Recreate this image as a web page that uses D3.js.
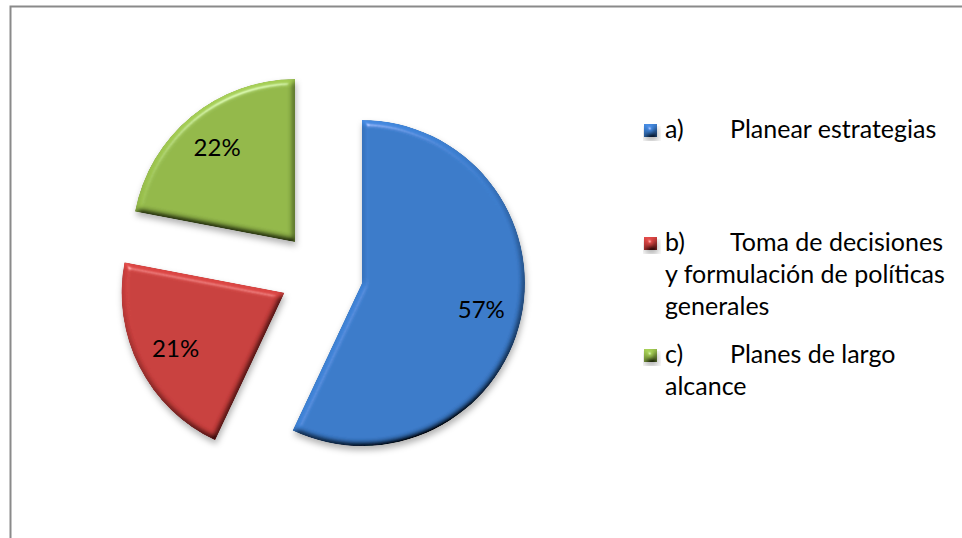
<!DOCTYPE html>
<html>
<head>
<meta charset="utf-8">
<script src="https://cdn.jsdelivr.net/npm/d3@7"></script>
<style>
  html, body { margin: 0; padding: 0; background: #fff; }
  svg { display: block; }
  text { font-family: Lato, "Open Sans", sans-serif; fill: #000; }
</style>
</head>
<body>
<svg id="chart" width="962" height="538"></svg>
<script>
// Answer categories, their share (%) and slice colours
const categories = ["a)", "b)", "c)"];
const legendLines = [
  ["Planear estrategias"],
  ["Toma de decisiones", "y formulación de políticas", "generales"],
  ["Planes de largo", "alcance"]
];
const values = [57, 21, 22];
const colors = ["#3b7bca", "#c93f3d", "#93b84a"];

const width = 962, height = 538;
const svg = d3.select("#chart");

// Frame of the chart area
svg.append("path")
  .attr("d", `M10.5,${height} V6.5 H${width}`)
  .attr("fill", "none")
  .attr("stroke", "#8a8a8a")
  .attr("stroke-width", 2);

// Bevel + drop shadow filter for the slices
const defs = svg.append("defs");
const f = defs.append("filter").attr("id", "bevel")
  .attr("x", "-15%").attr("y", "-15%").attr("width", "140%").attr("height", "140%");
f.append("feGaussianBlur").attr("in", "SourceAlpha").attr("stdDeviation", 3).attr("result", "blur");
const dl = f.append("feDiffuseLighting").attr("in", "blur").attr("surfaceScale", 5)
  .attr("diffuseConstant", 1).attr("lighting-color", "#fff").attr("result", "diff");
dl.append("feDistantLight").attr("azimuth", 250).attr("elevation", 50);
f.append("feComposite").attr("in", "SourceGraphic").attr("in2", "diff")
  .attr("operator", "arithmetic").attr("k1", 1.3).attr("k2", 0).attr("k3", 0).attr("k4", 0)
  .attr("result", "shaded");
const sl = f.append("feSpecularLighting").attr("in", "blur").attr("surfaceScale", 5)
  .attr("specularConstant", 0.6).attr("specularExponent", 45)
  .attr("lighting-color", "#fff").attr("result", "spec");
sl.append("feDistantLight").attr("azimuth", 250).attr("elevation", 40);
f.append("feComposite").attr("in", "spec").attr("in2", "SourceAlpha")
  .attr("operator", "in").attr("result", "specIn");
f.append("feComposite").attr("in", "shaded").attr("in2", "specIn")
  .attr("operator", "arithmetic").attr("k1", 0).attr("k2", 1).attr("k3", 0.5).attr("k4", 0)
  .attr("result", "lit");
f.append("feComposite").attr("in", "lit").attr("in2", "SourceAlpha")
  .attr("operator", "in").attr("result", "litIn");
f.append("feGaussianBlur").attr("in", "SourceAlpha").attr("stdDeviation", 3).attr("result", "sb");
f.append("feOffset").attr("in", "sb").attr("dx", 1).attr("dy", 4).attr("result", "so");
f.append("feFlood").attr("flood-color", "#000").attr("flood-opacity", 0.3).attr("result", "fl");
f.append("feComposite").attr("in", "fl").attr("in2", "so").attr("operator", "in").attr("result", "shadow");
const m = f.append("feMerge");
m.append("feMergeNode").attr("in", "shadow");
m.append("feMergeNode").attr("in", "litIn");

// Exploded pie, first slice starting at 12 o'clock, clockwise
const cx = 321.5, cy = 274, radius = 163, explode = 41.5;
const pie = d3.pie().sort(null).value(d => d)(values);
const arc = d3.arc().innerRadius(0).outerRadius(radius);
const labelArc = d3.arc().innerRadius(radius * 0.75).outerRadius(radius * 0.75);
const total = d3.sum(values);

const g = svg.append("g").attr("transform", `translate(${cx},${cy})`);
const slices = g.selectAll("g.slice").data(pie).join("g")
  .attr("class", "slice")
  .attr("transform", d => {
    const a = (d.startAngle + d.endAngle) / 2;
    return `translate(${explode * Math.sin(a)},${-explode * Math.cos(a)})`;
  });

slices.append("path")
  .attr("d", arc)
  .attr("fill", (d, i) => colors[i])
  .attr("filter", "url(#bevel)");

slices.append("text")
  .attr("transform", d => `translate(${labelArc.centroid(d)})`)
  .attr("text-anchor", "middle")
  .attr("dy", "0.35em")
  .style("font-size", "24px")
  .text(d => Math.round(d.value / total * 100) + "%");

// Legend
const legend = svg.append("g").attr("transform", "translate(644,0)");
const entryTop = [138, 251, 363];
const lineH = 32;
categories.forEach((c, i) => {
  const y = entryTop[i];
  legend.append("rect")
    .attr("x", 0).attr("y", y - 14).attr("width", 13).attr("height", 13)
    .attr("fill", colors[i]).attr("filter", "url(#bevel)");
  const t = legend.append("text").attr("y", y).style("font-size", "25px");
  t.append("tspan").attr("x", 21).text(c);
  legendLines[i].forEach((ln, k) => {
    if (k === 0) {
      t.append("tspan").attr("x", 86).text(ln);
    } else {
      t.append("tspan").attr("x", 21).attr("y", y + k * lineH).text(ln);
    }
  });
});
</script>
</body>
</html>
